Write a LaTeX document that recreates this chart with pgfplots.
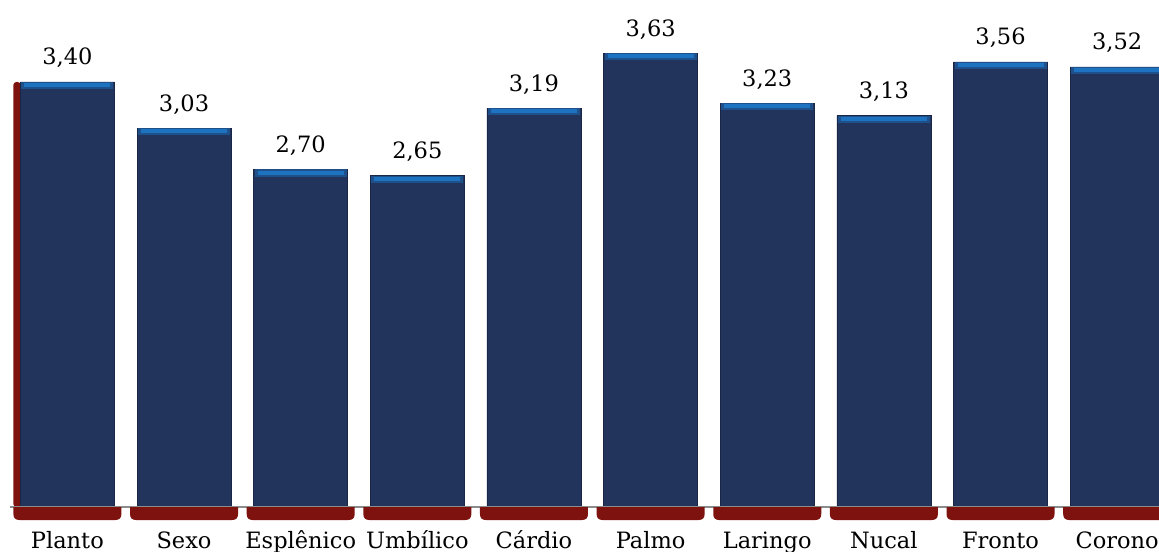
\documentclass[border=0pt]{standalone}
\usepackage{fontspec}
\setmainfont{DejaVu Serif}
\usepackage{pgfplots}
\usepackage{pgfplotstable}
\pgfplotsset{compat=1.18}
\definecolor{navy}{RGB}{34,51,92}
\definecolor{topblue}{RGB}{30,115,192}
\definecolor{midblue}{RGB}{30,80,140}
\definecolor{shadowred}{RGB}{126,18,14}
\pgfdeclareplotmark{topstrip}{%
  \pgfsetfillcolor{midblue}%
  \pgfpathrectangle{\pgfpoint{-23pt}{-3.6pt}}{\pgfpoint{46pt}{3.6pt}}\pgfusepathqfill
  \pgfsetfillcolor{topblue}%
  \pgfpathrectangle{\pgfpoint{-21.5pt}{-2.6pt}}{\pgfpoint{43pt}{2.0pt}}\pgfusepathqfill}
\pgfdeclareplotmark{shadow}{%
  \pgfsetfillcolor{shadowred}%
  \pgfpathmoveto{\pgfpoint{-27pt}{0pt}}%
  \pgfpathlineto{\pgfpoint{-27pt}{-3.5pt}}%
  \pgfpathcurveto{\pgfpoint{-27pt}{-5.5pt}}{\pgfpoint{-26pt}{-6.5pt}}{\pgfpoint{-24pt}{-6.5pt}}%
  \pgfpathlineto{\pgfpoint{24pt}{-6.5pt}}%
  \pgfpathcurveto{\pgfpoint{26pt}{-6.5pt}}{\pgfpoint{27pt}{-5.5pt}}{\pgfpoint{27pt}{-3.5pt}}%
  \pgfpathlineto{\pgfpoint{27pt}{0pt}}%
  \pgfpathclose\pgfusepathqfill}
\pgfplotstableread{
x v z
0 3.40 0
1 3.03 0
2 2.70 0
3 2.65 0
4 3.19 0
5 3.63 0
6 3.23 0
7 3.13 0
8 3.56 0
9 3.52 0
}\datatable
\begin{document}
\begin{tikzpicture}
\begin{axis}[
  x=58.32pt, y=62.5pt,
  xmin=-0.492, xmax=9.359, ymin=0, ymax=4.056,
  clip=false,
  axis on top,
  axis x line*=bottom,
  axis y line=none,
  x axis line style={draw=gray!90, line width=1pt},
  major tick length=0pt,
  xtick={0,...,9},
  xticklabels={Planto,Sexo,Esplênico,Umbílico,Cárdio,Palmo,Laringo,Nucal,Fronto,Corono},
  xticklabel style={anchor=base, yshift=-20.5pt, font=\fontsize{11.25pt}{13pt}\selectfont, inner sep=0pt},
  ytick=\empty,
  /pgf/number format/.cd, fixed, fixed zerofill, precision=2, use comma, assume math mode=true,
]
\coordinate (O) at (axis cs:-0.5778,0);
% bottom shadows
\addplot[only marks, mark=shadow] table[x=x,y=z] \datatable;
% left red edge of first bar
\addplot[ybar, bar width=3.6pt, bar shift=-25.2pt, fill=shadowred, draw=none, rounded corners=1.5pt] coordinates {(0,3.40)};
% main bars
\addplot[ybar, bar width=47pt, bar shift=0pt, fill=navy, draw=navy!75!black, line width=0.4pt,
  nodes near coords,
  every node near coord/.append style={anchor=base, yshift=8.5pt, text=black, font=\fontsize{11.25pt}{13pt}\selectfont, inner sep=0pt}]
  table[x=x,y=v] \datatable;
% top highlights
\addplot[only marks, mark=topstrip] table[x=x,y=v] \datatable;
\end{axis}
\pgfresetboundingbox
\path[use as bounding box] ([yshift=-22pt]O) rectangle ([xshift=579.5pt,yshift=253.5pt]O);
\end{tikzpicture}
\end{document}
